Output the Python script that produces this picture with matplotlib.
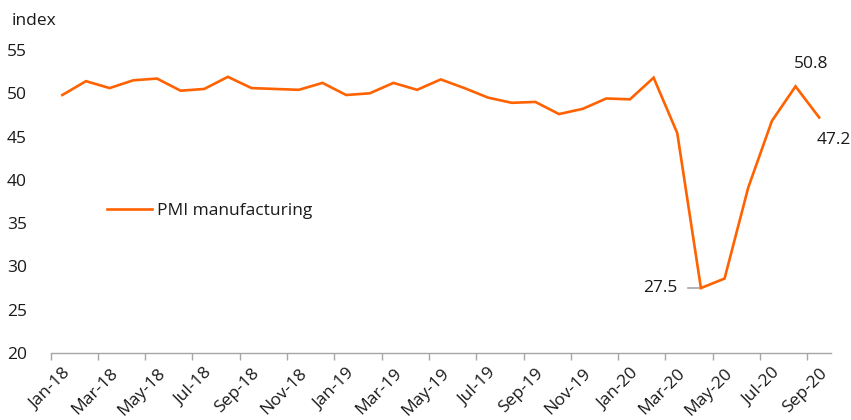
import matplotlib
matplotlib.use("Agg")
import matplotlib.pyplot as plt
import numpy as np

months = ["Jan-18","Feb-18","Mar-18","Apr-18","May-18","Jun-18","Jul-18","Aug-18","Sep-18","Oct-18","Nov-18","Dec-18",
          "Jan-19","Feb-19","Mar-19","Apr-19","May-19","Jun-19","Jul-19","Aug-19","Sep-19","Oct-19","Nov-19","Dec-19",
          "Jan-20","Feb-20","Mar-20","Apr-20","May-20","Jun-20","Jul-20","Aug-20","Sep-20"]
pmi = [49.8, 51.4, 50.6, 51.5, 51.7, 50.3, 50.5, 51.9, 50.6, 50.5, 50.4, 51.2,
       49.8, 50.0, 51.2, 50.4, 51.6, 50.6, 49.5, 48.9, 49.0, 47.6, 48.2, 49.4,
       49.3, 51.8, 45.4, 27.5, 28.6, 39.1, 46.8, 50.8, 47.2]
yticks = [20, 25, 30, 35, 40, 45, 50, 55]

plt.rcParams['font.family'] = ['Open Sans', 'DejaVu Sans']
ORANGE = "#FF6200"
TXT = "#1a1a1a"
FS = 12.5

fig = plt.figure(figsize=(8.51, 4.20), dpi=100)
ax = fig.add_axes([50.5/851, (420-353)/420, (831-50.5)/851, (353-50)/420])
x = np.arange(len(pmi))
ax.plot(x, pmi, color=ORANGE, lw=1.9, label="PMI manufacturing", solid_joinstyle='miter')
ax.set_xlim(-0.5, len(pmi)-0.5)
ax.set_ylim(20, 55)

for s in ["top", "right", "left"]:
    ax.spines[s].set_visible(False)
ax.spines["bottom"].set_color("#a6a6a6")
ax.spines["bottom"].set_linewidth(1.0)

ax.set_yticks(yticks)
ax.set_yticklabels([str(v) for v in yticks], fontsize=FS, color=TXT)
ax.tick_params(axis='y', length=0, pad=17)
for lab in ax.get_yticklabels():
    lab.set_horizontalalignment('right')

ax.set_xticks(np.arange(-0.5, len(pmi)-0.5, 2))
ax.set_xticklabels([])
ax.tick_params(axis='x', which='major', length=5, color="#a6a6a6", width=1.0)
ax.set_xticks(x[::2], minor=True)
ax.set_xticklabels(months[::2], minor=True, rotation=45, ha='right', va='top',
                   rotation_mode='anchor', fontsize=FS, color=TXT)
ax.tick_params(axis='x', which='minor', length=0, pad=9)

fig.text(12/851, 1-21/420, "index", fontsize=FS, color=TXT, va='center', ha='left')

# annotations
ax.annotate("50.8", xy=(31, 50.8), xytext=(-1, 16), textcoords='offset points',
            ha='left', va='center', fontsize=FS, color=TXT)
ax.annotate("47.2", xy=(32, 47.2), xytext=(-2, -16), textcoords='offset points',
            ha='left', va='center', fontsize=FS, color=TXT)
ax.annotate("27.5", xy=(27, 27.5), xytext=(-17, 0), textcoords='offset points',
            ha='right', va='center', fontsize=FS, color=TXT)
ax.plot([26.45, 27.0], [27.5, 27.5], color="#a6a6a6", lw=1.2, zorder=1)

ax.legend(loc='upper left', bbox_to_anchor=(100/851, 1-(196)/420), bbox_transform=fig.transFigure,
          frameon=False, fontsize=FS, handlelength=2.6, handletextpad=0.3, borderaxespad=0,
          labelcolor=TXT)

fig.savefig("out.png", dpi=100)
